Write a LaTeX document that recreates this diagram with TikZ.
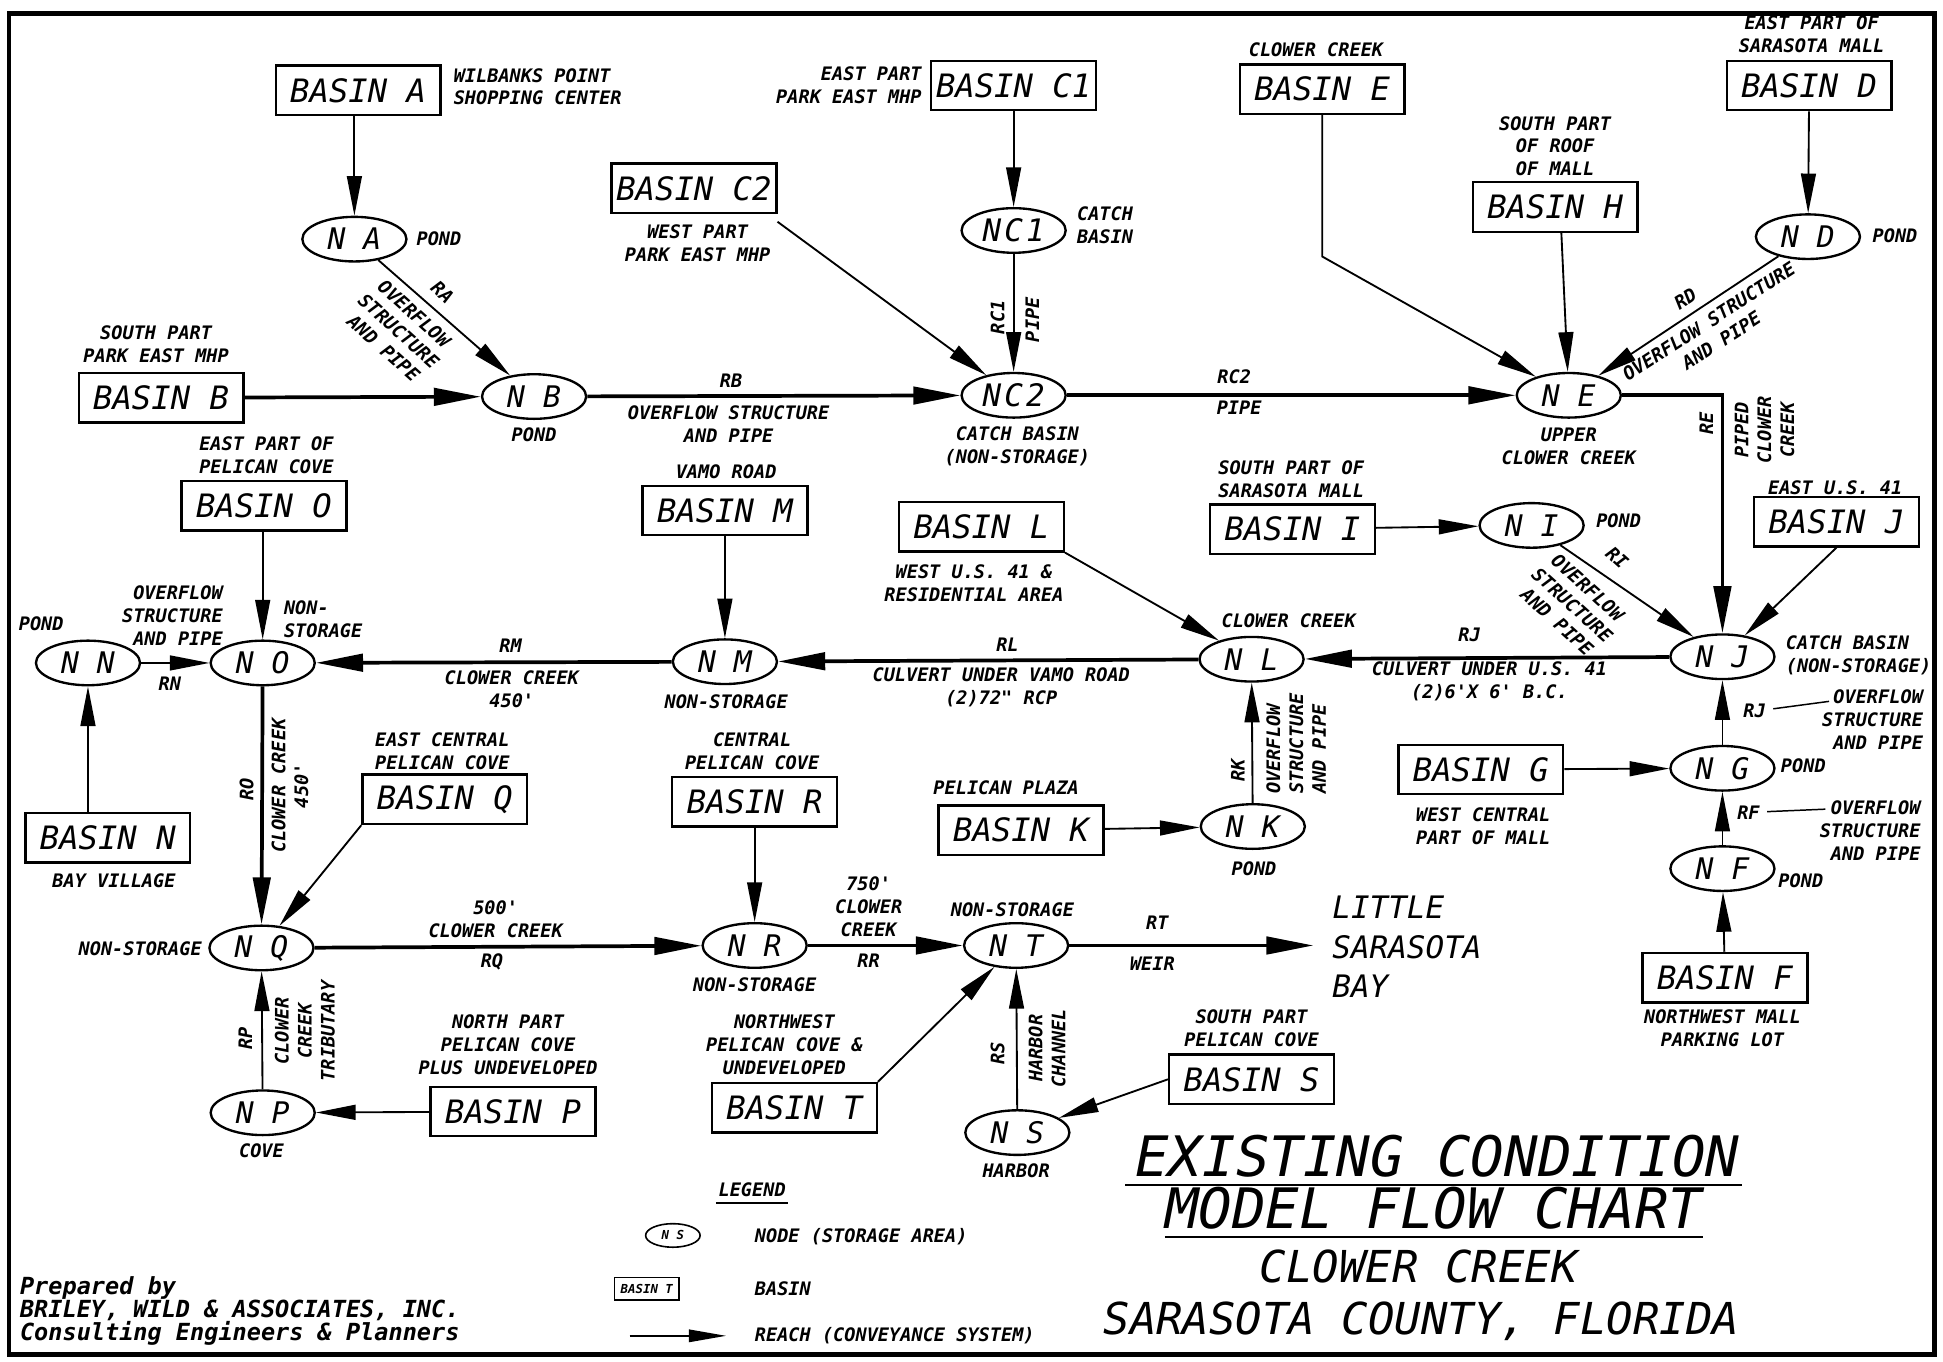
\documentclass[tikz,border=0pt]{standalone}
\usepackage{fontspec}
\usetikzlibrary{arrows.meta,shapes.geometric,calc}
\newfontfamily\cad{DejaVu Sans Mono}
\newfontfamily\cadw{DejaVu Sans Mono}[LetterSpace=10]
\newcommand{\fsz}[2]{\fontsize{#1}{#2}\selectfont}
\begin{document}
\begin{tikzpicture}[x=1pt,y=-1pt,
  lab/.style={font=\cad\bfseries\itshape\fsz{15}{18.5}, inner sep=0pt, align=center},
  basin/.style={draw, line width=1.9pt, minimum width=133pt, minimum height=40pt, inner sep=0pt, font=\cad\itshape\fsz{26}{28}},
  nd/.style={draw, ellipse, line width=1.9pt, minimum width=84pt, minimum height=36pt, inner sep=0pt, font=\cad\itshape\fsz{24}{26}},
  ndw/.style={nd, font=\cadw\itshape\fsz{25}{26}},
  feedln/.style={line width=1.5pt, -{Triangle[length=32pt,width=12pt]}},
  mainln/.style={line width=3pt, -{Triangle[length=38pt,width=14pt]}},
  ttl/.style={font=\cad\itshape\fsz{45}{50}, inner sep=0pt},
  sub/.style={font=\cad\itshape\fsz{35.5}{40}, inner sep=0pt},
]
\fill[white] (0,0) rectangle (1568,1099);
\useasboundingbox (0,0) rectangle (1568,1099);
\draw[line width=3.5pt] (7,11) rectangle (1561,1093);

% ---------- basins ----------
\node[basin] (BA) at (289,73) {BASIN A};
\node[basin] (BC1) at (818,69) {BASIN C1};
\node[basin] (BC2) at (560,152) {BASIN C2};
\node[basin] (BE) at (1067,72) {BASIN E};
\node[basin] (BD) at (1460,69) {BASIN D};
\node[basin] (BH) at (1255,167) {BASIN H};
\node[basin] (BB) at (130,321) {BASIN B};
\node[basin] (BO) at (213,408) {BASIN O};
\node[basin] (BM) at (585,412) {BASIN M};
\node[basin] (BL) at (792,425) {BASIN L};
\node[basin] (BI) at (1043,427) {BASIN I};
\node[basin] (BJ) at (1482,421) {BASIN J};
\node[basin] (BN) at (87,676) {BASIN N};
\node[basin] (BQ) at (359,645) {BASIN Q};
\node[basin] (BR) at (609,647) {BASIN R};
\node[basin] (BK) at (824,670) {BASIN K};
\node[basin] (BG) at (1195,621) {BASIN G};
\node[basin] (BF) at (1392,789) {BASIN F};
\node[basin] (BP) at (414,897) {BASIN P};
\node[basin] (BT) at (641,894) {BASIN T};
\node[basin] (BS) at (1010,871) {BASIN S};

% ---------- nodes ----------
\node[nd] (NA) at (286,193) {N A};
\node[nd] (NB) at (431,320) {N B};
\node[ndw] (NC1) at (818,186) {NC1};
\node[ndw] (NC2) at (818,319) {NC2};
\node[nd] (ND) at (1459,191) {N D};
\node[nd] (NE) at (1266,319) {N E};
\node[nd] (NI) at (1236,424) {N I};
\node[nd] (NJ) at (1390,530) {N J};
\node[nd] (NL) at (1010,532) {N L};
\node[nd] (NM) at (585,534) {N M};
\node[nd] (NO) at (212,535) {N O};
\node[nd] (NN) at (71,535) {N N};
\node[nd] (NK) at (1011,667) {N K};
\node[nd] (NG) at (1390,620) {N G};
\node[nd] (NF) at (1390,701) {N F};
\node[nd] (NQ) at (211,765) {N Q};
\node[nd] (NP) at (212,898) {N P};
\node[nd] (NR) at (609,763) {N R};
\node[nd] (NT) at (820,763) {N T};
\node[nd] (NS) at (821,914) {N S};
\coordinate (bay) at (1060,763);
\coordinate (Ebend) at (1067,207);

% ---------- connectors ----------
\draw[feedln] (NA |- BA.south) -- (NA.north);
\draw[feedln] (NA) -- (NB);
\draw[mainln] (BB) -- (NB);
\draw[mainln] (NB) -- (NC2);
\draw[feedln] ([yshift=-6pt]BC2.south east) -- (NC2);
\draw[feedln] (BC1) -- (NC1);
\draw[feedln] (NC1) -- (NC2);
\draw[mainln] (NC2) -- (NE);
\draw[feedln] (BE.south) -- (Ebend) -- (NE);
\draw[feedln] ([xshift=5pt]BH.south) -- (NE);
\draw[feedln] (BD) -- (ND);
\draw[feedln] (ND) -- (NE);
\draw[mainln] (NE.east) -| (NJ.north);
\draw[feedln] (BJ.south) -- (NJ);
\draw[feedln] (BI) -- (NI);
\draw[feedln] (NI) -- (NJ);
\draw[mainln] (NJ) -- (NL);
\draw[feedln] (BL.south east) -- (NL);
\draw[feedln] (NK) -- (NL);
\draw[feedln] (BK) -- (NK);
\draw[mainln] (NL) -- (NM);
\draw[feedln] (BM) -- (NM);
\draw[mainln] (NM) -- (NO);
\draw[feedln] (NO |- BO.south) -- (NO.north);
\draw[feedln] (NN) -- (NO);
\draw[feedln] (NN |- BN.north) -- (NN.south);
\draw[mainln] (NO) -- (NQ);
\draw[feedln] (BQ.south west) -- (NQ);
\draw[feedln] (NP) -- (NQ);
\draw[feedln] (BP) -- (NP);
\draw[mainln] (NQ) -- (NR);
\draw[feedln] (BR) -- (NR);
\draw[mainln] (NR) -- (NT);
\draw[feedln] (BT.north east) -- (NT);
\draw[feedln] (NS) -- (NT);
\draw[feedln] (BS.west) -- (NS);
\draw[mainln] (NT) -- (bay);
\draw[feedln] (BG) -- (NG);
\draw[feedln] (NG) -- (NJ);
\draw[feedln] (NF) -- (NG);
\draw[feedln] (BF) -- (NF);

% ---------- labels, top ----------
\node[lab, anchor=west, align=left] (tA) at (366,70) {WILBANKS POINT\\SHOPPING CENTER};
\node[lab, anchor=west] (pNA) at (336,193) {POND};
\node[lab, rotate=-42] (rA) at (357,236) {RA};
\node[lab, rotate=-42] (rAt) at (322,267) {OVERFLOW\\STRUCTURE\\AND PIPE};
\node[lab] (tB) at (126,278) {SOUTH PART\\PARK EAST MHP};
\node[lab] (pNB) at (431,351) {POND};
\node[lab] (rB) at (590,307) {RB};
\node[lab] (rBt) at (588,342) {OVERFLOW STRUCTURE\\AND PIPE};
\node[lab, anchor=east, align=right] (tC1) at (744,69) {EAST PART\\PARK EAST MHP};
\node[lab] (tC2) at (563,196) {WEST PART\\PARK EAST MHP};
\node[lab, anchor=west, align=left] (pNC1) at (869,182) {CATCH\\BASIN};
\node[lab, rotate=90] (rC1) at (805,256) {RC1};
\node[lab, rotate=90] (rC1t) at (833,258) {PIPE};
\node[lab] (pNC2) at (821,360) {CATCH BASIN\\(NON-STORAGE)};
\node[lab] (rC2) at (996,304) {RC2};
\node[lab] (rC2t) at (1000,329) {PIPE};
\node[lab] (tE) at (1062,40) {CLOWER CREEK};
\node[lab] (tD) at (1462,28) {EAST PART OF\\SARASOTA MALL};
\node[lab] (tH) at (1255,118) {SOUTH PART\\OF ROOF\\OF MALL};
\node[lab, anchor=west] (pND) at (1511,190) {POND};
\node[lab, rotate=33] (rD) at (1360,241) {RD};
\node[lab, rotate=33] (rDt) at (1384,267) {OVERFLOW STRUCTURE\\AND PIPE};
\node[lab] (pNE) at (1266,360) {UPPER\\CLOWER CREEK};
\node[lab, rotate=90] (rE) at (1377,342) {RE};
\node[lab, rotate=90] (rEt) at (1424,347) {PIPED\\CLOWER\\CREEK};

% ---------- labels, middle ----------
\node[lab] (tJ) at (1481,394) {EAST U.S. 41};
\node[lab, anchor=west, align=left] (pNJ) at (1441,529) {CATCH BASIN\\(NON-STORAGE)};
\node[lab] (tI) at (1042,387) {SOUTH PART OF\\SARASOTA MALL};
\node[lab, anchor=west] (pNI) at (1288,420) {POND};
\node[lab, rotate=-42] (rI) at (1305,450) {RI};
\node[lab, rotate=-42] (rIt) at (1269,488) {OVERFLOW\\STRUCTURE\\AND PIPE};
\node[lab] (tL) at (786,471) {WEST U.S. 41 \&\\RESIDENTIAL AREA};
\node[lab] (pNL) at (1040,501) {CLOWER CREEK};
\node[lab] (rJ) at (1186,512) {RJ};
\node[lab] (rJt) at (1202,550) {CULVERT UNDER U.S. 41\\(2)6'X 6' B.C.};
\node[lab] (rL) at (813,520) {RL};
\node[lab] (rLt) at (808,555) {CULVERT UNDER VAMO ROAD\\(2)72" RCP};
\node[lab] (tM) at (586,381) {VAMO ROAD};
\node[lab] (pNM) at (586,566) {NON-STORAGE};
\node[lab] (rM) at (412,521) {RM};
\node[lab] (rMt) at (413,556) {CLOWER CREEK\\450'};
\node[lab] (tO) at (215,367) {EAST PART OF\\PELICAN COVE};
\node[lab, anchor=west, align=left] (pNO) at (229,500) {NON-\\STORAGE};
\node[lab, anchor=west] (pNN) at (15,503) {POND};
\node[lab, anchor=east, align=right] (rNt) at (180,497) {OVERFLOW\\STRUCTURE\\AND PIPE};
\node[lab] (rN) at (137,552) {RN};
\node[lab] (tN) at (92,711) {BAY VILLAGE};
\node[lab, rotate=90] (rO) at (199,637) {RO};
\node[lab, rotate=90] (rOt) at (234,634) {CLOWER CREEK\\450'};
\node[lab] (tQ) at (357,606) {EAST CENTRAL\\PELICAN COVE};
\node[lab, anchor=east] (pNQ) at (163,766) {NON-STORAGE};
\node[lab] (rQt) at (400,742) {500'\\CLOWER CREEK};
\node[lab] (rQ) at (397,776) {RQ};
\node[lab, rotate=90] (rP) at (198,838) {RP};
\node[lab, rotate=90] (rPt) at (246,832) {CLOWER\\CREEK\\TRIBUTARY};
\node[lab] (tP) at (410,843) {NORTH PART\\PELICAN COVE\\PLUS UNDEVELOPED};
\node[lab] (pNP) at (211,929) {COVE};
\node[lab] (tR) at (607,606) {CENTRAL\\PELICAN COVE};
\node[lab] (tK) at (812,636) {PELICAN PLAZA};
\node[lab] (pNK) at (1012,701) {POND};
\node[lab, rotate=90] (rK) at (999,622) {RK};
\node[lab, rotate=90, align=left] (rKt) at (1046,600) {OVERFLOW\\STRUCTURE\\AND PIPE};
\node[lab] (pNR) at (609,795) {NON-STORAGE};
\node[lab] (rRt) at (701,732) {750'\\CLOWER\\CREEK};
\node[lab] (rR) at (701,775) {RR};
\node[lab] (pNT) at (817,734) {NON-STORAGE};
\node[lab] (rT) at (934,745) {RT};
\node[lab] (rTt) at (930,778) {WEIR};
\node[anchor=west, align=left, inner sep=0pt, font=\cad\itshape\fsz{25}{31.5}] (tBay) at (1075,764) {LITTLE\\SARASOTA\\BAY};
\node[lab] (tT) at (633,843) {NORTHWEST\\PELICAN COVE \&\\UNDEVELOPED};
\node[lab, rotate=90] (rS) at (805,850) {RS};
\node[lab, rotate=90] (rSt) at (845,846) {HARBOR\\CHANNEL};
\node[lab] (pNS) at (820,945) {HARBOR};
\node[lab] (tS) at (1010,830) {SOUTH PART\\PELICAN COVE};
\node[lab, anchor=west] (pNG) at (1437,618) {POND};
\node[lab] (tG) at (1197,667) {WEST CENTRAL\\PART OF MALL};
\node[lab] (rG) at (1416,574) {RJ};
\node[lab, anchor=east, align=right] (rGt) at (1552,581) {OVERFLOW\\STRUCTURE\\AND PIPE};
\coordinate (rGa) at (1431,572);
\coordinate (rGb) at (1476,566);
\draw[line width=1.2pt] (rGa) -- (rGb);
\node[lab] (rF) at (1411,656) {RF};
\node[lab, anchor=east, align=right] (rFt) at (1550,670) {OVERFLOW\\STRUCTURE\\AND PIPE};
\coordinate (rFa) at (1426,655);
\coordinate (rFb) at (1473,653);
\draw[line width=1.2pt] (rFa) -- (rFb);
\node[lab, anchor=west] (pNF) at (1435,711) {POND};
\node[lab] (tF) at (1390,830) {NORTHWEST MALL\\PARKING LOT};

% ---------- legend ----------
\node[lab] (leg) at (607,960) {LEGEND};
\draw[line width=1.2pt] ([xshift=-2pt,yshift=-5pt]leg.south west) -- ([xshift=2pt,yshift=-5pt]leg.south east);
\node[draw, ellipse, line width=1.3pt, minimum width=44pt, minimum height=19pt, inner sep=0pt, font=\cad\bfseries\itshape\fsz{10}{11}] (lgN) at (543,997) {N S};
\node[lab, anchor=west] (lgNt) at (609,998) {NODE (STORAGE AREA)};
\node[draw, line width=1.3pt, minimum width=52pt, minimum height=18pt, inner sep=0pt, font=\cad\bfseries\itshape\fsz{10}{11}] (lgB) at (522,1040) {BASIN T};
\node[lab, anchor=west] (lgBt) at (609,1040) {BASIN};
\coordinate (lgA1) at (508,1078);
\coordinate (lgA2) at (586,1078);
\draw[line width=1.5pt, -{Triangle[length=30pt,width=10pt]}] (lgA1) -- (lgA2);
\node[lab, anchor=west] (lgAt) at (609,1078) {REACH (CONVEYANCE SYSTEM)};

% ---------- title ----------
\node[ttl] (T1) at (1160,933) {EXISTING CONDITION};
\draw[line width=1.6pt] ([xshift=-8pt,yshift=-6pt]T1.south west) -- ([xshift=2pt,yshift=-6pt]T1.south east);
\node[ttl] (T2) at (1157,975) {MODEL FLOW CHART};
\draw[line width=1.6pt] ([yshift=-6pt]T2.south west) -- ([yshift=-6pt]T2.south east);
\node[sub] (T3) at (1145,1022) {CLOWER CREEK};
\node[sub] (T4) at (1147,1066) {SARASOTA COUNTY, FLORIDA};

\node[anchor=west, align=left, inner sep=0pt, font=\cad\bfseries\itshape\fsz{19}{18.5}] (prep) at (16,1058) {Prepared by\\BRILEY, WILD \& ASSOCIATES, INC.\\Consulting Engineers \& Planners};
\end{tikzpicture}
\end{document}
